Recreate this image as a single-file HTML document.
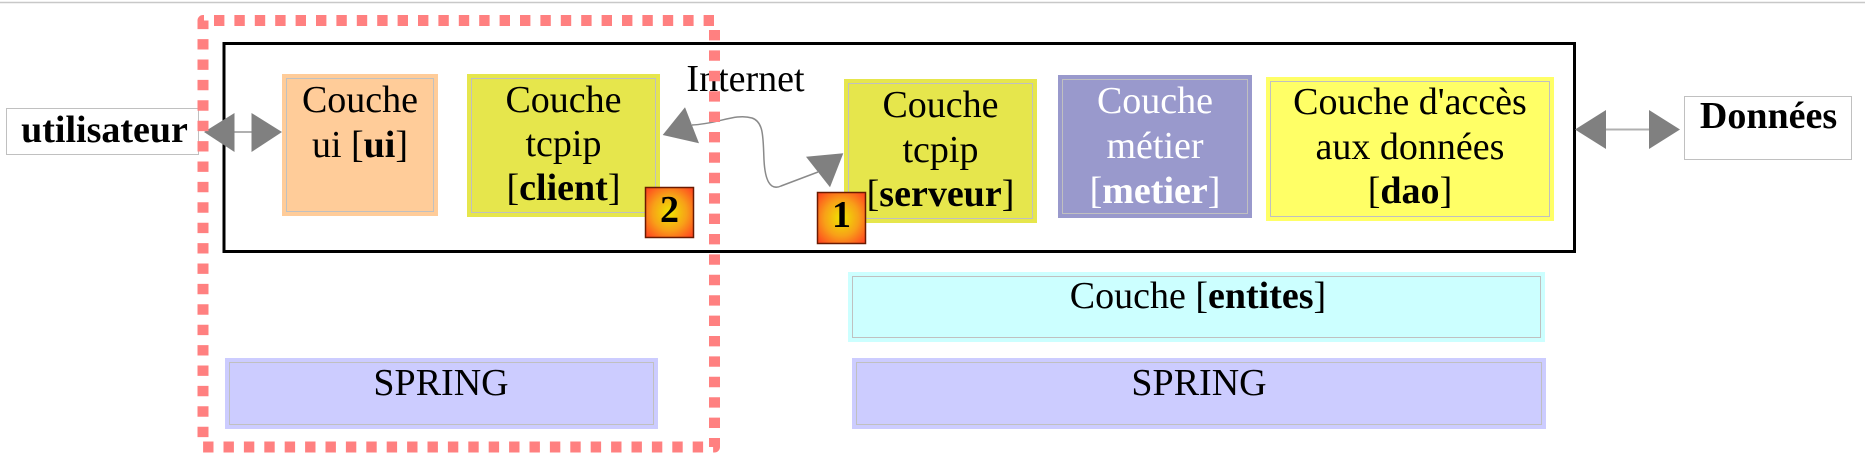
<!DOCTYPE html>
<html>
<head>
<meta charset="utf-8">
<style>
html,body{margin:0;padding:0;background:#fff;}
svg{display:block;}
text{font-family:"Liberation Serif",serif;font-size:38px;fill:#000;}
</style>
</head>
<body>
<svg width="1865" height="462" viewBox="0 0 1865 462" xmlns="http://www.w3.org/2000/svg">
<defs>
<radialGradient id="bg" cx="50%" cy="50%" r="65%">
<stop offset="0" stop-color="#eee600"/>
<stop offset="0.55" stop-color="#f8a018"/>
<stop offset="1" stop-color="#ff4a20"/>
</radialGradient>
</defs>
<rect x="0" y="0" width="1865" height="462" fill="#fff"/>
<line x1="0" y1="2.5" x2="1865" y2="2.5" stroke="#c8c8c8" stroke-width="1.5"/>

<!-- black container -->
<rect x="224" y="43.5" width="1350.5" height="208" fill="#fff" stroke="#000" stroke-width="3"/>

<!-- utilisateur -->
<rect x="6.5" y="108.5" width="192" height="46" fill="#fff" stroke="#c0c0c0" stroke-width="1"/>
<text x="104.5" y="142" text-anchor="middle" font-weight="bold">utilisateur</text>

<!-- Données -->
<rect x="1684.5" y="96.5" width="167" height="63" fill="#fff" stroke="#c0c0c0" stroke-width="1"/>
<text x="1768.5" y="128" text-anchor="middle" font-weight="bold">Données</text>

<!-- boxes -->
<rect x="282" y="74" width="156" height="142" fill="#ffcc99"/>
<rect x="286.5" y="78.5" width="147" height="133" fill="none" stroke="#c0c0c0"/>
<text x="360" y="112" text-anchor="middle">Couche</text>
<text x="360" y="157" text-anchor="middle">ui [<tspan font-weight="bold">ui</tspan>]</text>

<rect x="467" y="74" width="193" height="143" fill="#e6e64c"/>
<rect x="471.5" y="78.5" width="184" height="134" fill="none" stroke="#c0c0c0"/>
<text x="563.5" y="112" text-anchor="middle">Couche</text>
<text x="563.5" y="156" text-anchor="middle">tcpip</text>
<text x="563.5" y="200" text-anchor="middle">[<tspan font-weight="bold">client</tspan>]</text>

<rect x="844" y="79" width="193" height="144" fill="#e6e64c"/>
<rect x="848.5" y="83.5" width="184" height="135" fill="none" stroke="#c0c0c0"/>
<text x="940.5" y="117" text-anchor="middle">Couche</text>
<text x="940.5" y="162" text-anchor="middle">tcpip</text>
<text x="940.5" y="206" text-anchor="middle">[<tspan font-weight="bold">serveur</tspan>]</text>

<rect x="1058" y="75" width="194" height="143" fill="#9999cc"/>
<rect x="1062.5" y="79.5" width="185" height="134" fill="none" stroke="#c0c0c0"/>
<text x="1155" y="113" text-anchor="middle" style="fill:#fff">Couche</text>
<text x="1155" y="158" text-anchor="middle" style="fill:#fff">métier</text>
<text x="1155" y="203" text-anchor="middle" style="fill:#fff">[<tspan font-weight="bold" style="fill:#fff">metier</tspan>]</text>

<rect x="1266" y="77" width="288" height="144" fill="#ffff66"/>
<rect x="1270.5" y="81.5" width="279" height="135" fill="none" stroke="#c0c0c0"/>
<text x="1410" y="114" text-anchor="middle">Couche d'accès</text>
<text x="1410" y="159" text-anchor="middle">aux données</text>
<text x="1410" y="203" text-anchor="middle">[<tspan font-weight="bold">dao</tspan>]</text>

<rect x="848" y="272" width="697" height="70" fill="#ccffff"/>
<rect x="852.5" y="276.5" width="688" height="61" fill="none" stroke="#c0c0c0"/>
<text x="1198" y="308" text-anchor="middle">Couche [<tspan font-weight="bold">entites</tspan>]</text>

<rect x="225" y="358" width="433" height="71" fill="#ccccff"/>
<rect x="229.5" y="362.5" width="424" height="62" fill="none" stroke="#c0c0c0"/>
<text x="441" y="395" text-anchor="middle">SPRING</text>

<rect x="852" y="358" width="694" height="71" fill="#ccccff"/>
<rect x="856.5" y="362.5" width="685" height="62" fill="none" stroke="#c0c0c0"/>
<text x="1199" y="395" text-anchor="middle">SPRING</text>

<!-- double arrows -->
<line x1="232" y1="132" x2="253" y2="132" stroke="#b0b0b0" stroke-width="2"/>
<polygon points="204,132 234.5,113 234.5,152" fill="#808080"/>
<polygon points="282,132 251.5,113 251.5,152" fill="#808080"/>

<line x1="1604" y1="129.5" x2="1651" y2="129.5" stroke="#b0b0b0" stroke-width="2"/>
<polygon points="1575,129.5 1606,110 1606,149" fill="#808080"/>
<polygon points="1680,129.5 1649,110 1649,149" fill="#808080"/>

<!-- Internet -->
<text x="745.5" y="91" text-anchor="middle">Internet</text>

<!-- curved connector -->
<path d="M 692 125 C 718 124, 735 113, 752 118 C 764 122, 763 138, 764 160 C 765 180, 770 191, 781 186 L 818 172" fill="none" stroke="#8a8a8a" stroke-width="1.5"/>
<polygon points="662.7,135 685,107.3 699,143.3" fill="#808080"/>
<polygon points="843.3,153.3 806,156.7 830,187.3" fill="#808080"/>

<!-- badges -->
<rect x="645.5" y="187.5" width="48" height="50" fill="url(#bg)" stroke="#6a1a00" stroke-width="1.5"/>
<text x="669.5" y="222" text-anchor="middle" font-weight="bold">2</text>
<rect x="817.5" y="192.5" width="48" height="51" fill="url(#bg)" stroke="#6a1a00" stroke-width="1.5"/>
<text x="841.5" y="227" text-anchor="middle" font-weight="bold">1</text>

<!-- red dashed region -->
<path d="M 203 20.5 H 714.5 V 447 H 203 Z" fill="none" stroke="#ff8080" stroke-width="11" stroke-linejoin="round" stroke-dasharray="10.4 10" stroke-dashoffset="9.4"/>
</svg>
</body>
</html>
